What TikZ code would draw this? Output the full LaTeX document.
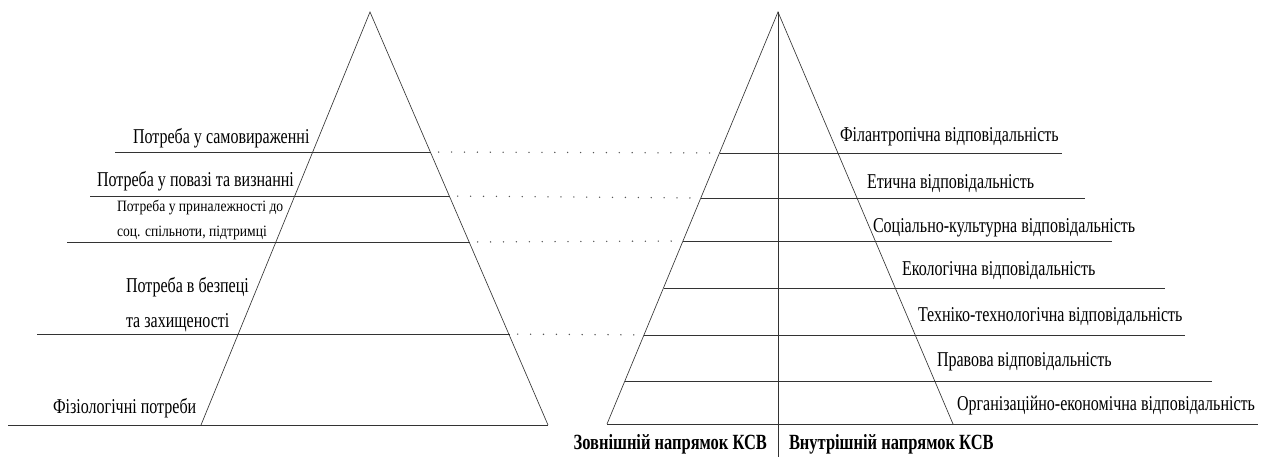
\documentclass[tikz,border=0pt]{standalone}
\usepackage{fontspec}
\setmainfont{Liberation Serif}[FakeStretch=0.76]
\newfontfamily\smallserif{Liberation Serif}[FakeStretch=0.86]
\definecolor{c333333}{RGB}{51,51,51}
\definecolor{c555555}{RGB}{85,85,85}

\begin{document}
\begin{tikzpicture}[x=0.03cm, y=-0.03cm, inner sep=0pt, outer sep=0pt,
  edge/.style={draw=c333333, line width=0.55pt},
  level/.style={draw=c333333, line width=0.65pt},
  link/.style={draw=c555555, line width=1.3pt, dash pattern=on 0.01pt off 11pt, line cap=round, shorten <=7pt, shorten >=6pt},
  needtext/.style={text=black, anchor=west, font=\fontsize{18}{21}\selectfont},
  smalltext/.style={text=black, anchor=west, align=left, font=\smallserif\fontsize{13.5}{21}\selectfont},
  dirtext/.style={text=black, font=\bfseries\fontsize{18.5}{21}\selectfont}]
  \useasboundingbox (0,0) rectangle (1265,457);

  % left pyramid: needs
  \coordinate (lapex) at (370,12);
  \coordinate (lbaseL) at (201,425);
  \coordinate (lbaseR) at (548,425);
  \path[edge] (lbaseL) -- (lapex) -- (lbaseR);



  \coordinate (l1w) at (115,152);
  \coordinate (l1e) at (430.5,152);
  \coordinate (l2w) at (90,196);
  \coordinate (l2e) at (449.5,196);
  \coordinate (l3w) at (67,242);
  \coordinate (l3e) at (469.5,242);
  \coordinate (l4w) at (37,334);
  \coordinate (l4e) at (509.5,334);
  \coordinate (l5w) at (8,425);
  \path[level] (l1w) -- (l1e);
  \path[level] (l2w) -- (l2e);
  \path[level] (l3w) -- (l3e);
  \path[level] (l4w) -- (l4e);
  \path[level] (l5w) -- (lbaseR);



  \node[needtext] (selfexpr) at (133,138) {Потреба у самовираженні};
  \node[needtext] (esteem) at (97,181) {Потреба у повазі та визнанні};
  \node[smalltext] (belong) at (117,220) {Потреба у приналежності до\\соц. спільноти, підтримці};
  \node[needtext, align=left, font=\fontsize{18}{30}\selectfont] (safety) at (126,305) {Потреба в безпеці\\та захищеності};
  \node[needtext] (physio) at (53,408) {Фізіологічні потреби};



  % right pyramid: responsibility
  \coordinate (rapex) at (778,12);
  \coordinate (rbaseL) at (607,424);
  \coordinate (rbaseR) at (953,424);
  \coordinate (raxis) at (778,457);
  \path[edge] (rbaseL) -- (rapex) -- (rbaseR);
  \path[edge] (rapex) -- (raxis);



  \coordinate (r1w) at (719.5,153);
  \coordinate (r1e) at (1062,153);
  \coordinate (r2w) at (701,198);
  \coordinate (r2e) at (1085,198);
  \coordinate (r3w) at (683,241);
  \coordinate (r3e) at (1112,241);
  \coordinate (r4w) at (663.5,288);
  \coordinate (r4e) at (1165,288);
  \coordinate (r5w) at (644,335);
  \coordinate (r5e) at (1185,335);
  \coordinate (r6w) at (625,381);
  \coordinate (r6e) at (1212,381);
  \coordinate (r7e) at (1258,424);
  \path[level] (r1w) -- (r1e);
  \path[level] (r2w) -- (r2e);
  \path[level] (r3w) -- (r3e);
  \path[level] (r4w) -- (r4e);
  \path[level] (r5w) -- (r5e);
  \path[level] (r6w) -- (r6e);
  \path[level] (rbaseL) -- (r7e);



  \node[needtext] (philan) at (840,137) {Філантропічна відповідальність};
  \node[needtext] (ethic) at (867,184) {Етична відповідальність};
  \node[needtext] (social) at (873,228) {Соціально-культурна відповідальність};
  \node[needtext] (ecolog) at (902,271) {Екологічна відповідальність};
  \node[needtext] (techno) at (918,317) {Техніко-технологічна відповідальність};
  \node[needtext] (legal) at (937,362) {Правова відповідальність};
  \node[needtext] (econom) at (957,406) {Організаційно-економічна відповідальність};



  \node[dirtext, anchor=east] (outer) at (767,444) {Зовнішній напрямок КСВ};
  \node[dirtext, anchor=west] (inner) at (789,444) {Внутрішній напрямок КСВ};



  % dotted links between the pyramids
  \path[link] (l1e) -- (r1w);
  \path[link] (l2e) -- (r2w);
  \path[link] (l3e) -- (r3w);
  \path[link] (l4e) -- (r5w);

\end{tikzpicture}
\end{document}
